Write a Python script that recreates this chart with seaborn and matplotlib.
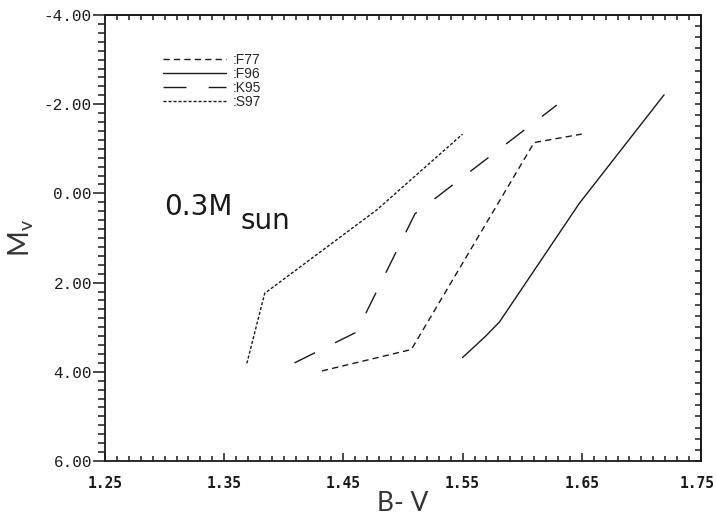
import numpy as np
import pandas as pd
import matplotlib
matplotlib.use("Agg")
import matplotlib.pyplot as plt
import matplotlib.transforms as mtrans
from matplotlib.ticker import MultipleLocator
import seaborn as sns

# ---- data ----
models = ["F77", "F96", "K95", "S97"]
f77_bv = [1.432, 1.507, 1.610, 1.650]
f77_mv = [3.98, 3.50, -1.14, -1.33]
f96_bv = [1.550, 1.569, 1.581, 1.648, 1.719]
f96_mv = [3.68, 3.21, 2.88, 0.22, -2.21]
k95_bv = [1.409, 1.461, 1.510, 1.629]
k95_mv = [3.80, 3.11, 0.46, -1.98]
s97_bv = [1.369, 1.384, 1.478, 1.550]
s97_mv = [3.81, 2.24, 0.37, -1.33]
x_ticks = [1.25, 1.35, 1.45, 1.55, 1.65, 1.75]
y_ticks = [-4, -2, 0, 2, 4, 6]

series = {"F77": (f77_bv, f77_mv), "F96": (f96_bv, f96_mv),
          "K95": (k95_bv, k95_mv), "S97": (s97_bv, s97_mv)}
df = pd.concat([pd.DataFrame({"bv": b, "mv": m, "model": k})
                for k, (b, m) in series.items()], ignore_index=True)

sns.set_style("ticks")
plt.rcParams["axes.unicode_minus"] = False
plt.rcParams["font.family"] = ["DejaVu Sans"]
plt.rcParams["mathtext.fontset"] = "custom"
plt.rcParams["mathtext.rm"] = "Lato"
plt.rcParams["mathtext.it"] = "Lato"

ink = "#1a1a1a"
fig = plt.figure(figsize=(7.16, 5.21), dpi=100)
ax = fig.add_axes([105 / 716, 1 - 461 / 521, 596 / 716, 446 / 521])

dash_map = {"F77": (4.5, 3.0), "F96": "", "K95": (16.5, 16.0), "S97": (2.2, 1.4)}
sns.lineplot(data=df, x="bv", y="mv", style="model", style_order=models,
             dashes=dash_map, color=ink, lw=1.0, sort=False, estimator=None,
             ax=ax)

ax.set_xlim(1.25, 1.75)
ax.set_ylim(6, -4)

# ticks
ax.set_xticks(x_ticks)
ax.set_xticklabels([f"{v:.2f}" for v in x_ticks],
                   fontfamily="DejaVu Sans Mono", fontweight="bold",
                   fontsize=10.5)
ax.xaxis.set_minor_locator(MultipleLocator(0.01))
ax.set_yticks(y_ticks)
ax.set_yticklabels([f"{v:.2f}" for v in y_ticks], fontfamily="Liberation Mono",
                   fontsize=11.5)
ax.yaxis.set_minor_locator(MultipleLocator(0.2))

ax.tick_params(axis="x", which="both", direction="in", top=False, color=ink,
               labelcolor=ink)
ax.tick_params(axis="x", which="major", length=6, width=1.1, pad=10.5)
ax.tick_params(axis="x", which="minor", length=3.6, width=1.1)
ax.tick_params(axis="y", which="both", direction="out", right=False, color=ink,
               labelcolor=ink)
ax.tick_params(axis="y", which="major", length=8.6, width=1.1, pad=0.8)
ax.tick_params(axis="y", which="minor", length=5, width=1.1)

secx = ax.secondary_xaxis("top")
secx.set_xticks(np.arange(1.25, 1.7501, 0.01))
secx.tick_params(direction="in", length=3.6, width=1.1, labeltop=False, color=ink)
secy = ax.secondary_yaxis("right")
secy.set_yticks(np.arange(-4, 6.001, 0.25))
secy.tick_params(direction="in", length=4.3, width=1.1, labelright=False, color=ink)

for a in (ax, secx, secy):
    for s in a.spines.values():
        s.set_linewidth(1.3)
        s.set_color(ink)

# axis labels
ax.set_xlabel("B- V", fontfamily="Lato", fontsize=19, color="#333333")
ax.xaxis.set_label_coords(0.5, -0.068)
ax.set_ylabel(r"$\mathrm{M_v}$", fontsize=20, color="#333333")
ax.yaxis.set_label_coords(-0.115, 0.5)

# annotation
ax.text(1.300, 0.484, "0.3M", fontsize=20, color=ink, va="baseline", ha="left")
ax.text(1.364, 0.80, "sun", fontsize=20, color=ink, va="baseline", ha="left")

# legend
leg = ax.get_legend()
handles = leg.legend_handles
labels = [":" + t.get_text() for t in leg.get_texts()]
ax.legend(handles, labels, loc="upper left",
          bbox_to_anchor=((163 - 105) / 596, (461 - 53) / 446),
          frameon=False, borderpad=0, borderaxespad=0,
          handlelength=4.5, handletextpad=0.5, labelspacing=0.0,
          prop={"family": "Liberation Sans", "size": 10})

# keep the last x tick label inside the figure (as in the reference)
fig.canvas.draw()
last = ax.xaxis.get_major_ticks()[-1].label1
last.set_transform(last.get_transform() +
                   mtrans.ScaledTranslation(-4 / 100, 0, fig.dpi_scale_trans))

fig.savefig("out.png", dpi=100, facecolor="white")
